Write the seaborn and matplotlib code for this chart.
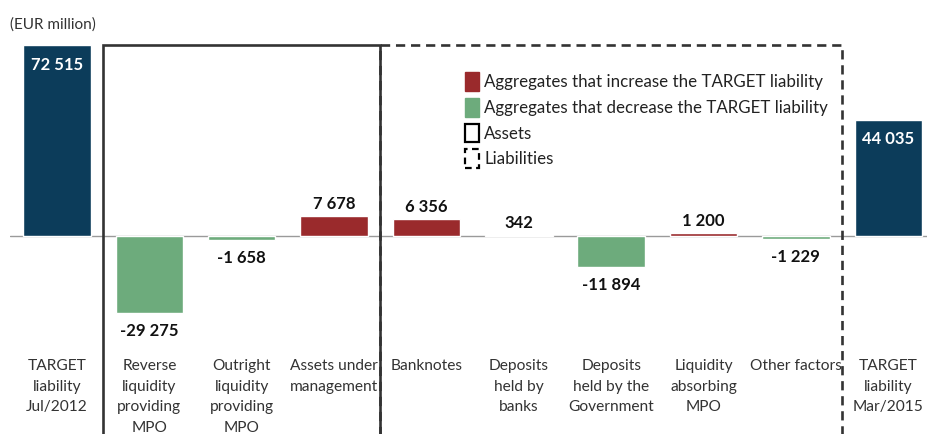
import matplotlib
matplotlib.use("Agg")
import matplotlib.pyplot as plt
import seaborn as sns
from matplotlib.patches import Patch, Rectangle
from matplotlib.transforms import blended_transform_factory

# Data
categories = ["TARGET\nliability\nJul/2012", "Reverse\nliquidity\nproviding\nMPO",
              "Outright\nliquidity\nproviding\nMPO", "Assets under\nmanagement", "Banknotes",
              "Deposits\nheld by\nbanks", "Deposits\nheld by the\nGovernment",
              "Liquidity\nabsorbing\nMPO", "Other factors", "TARGET\nliability\nMar/2015"]
values = [72515, -29275, -1658, 7678, 6356, 342, -11894, 1200, -1229, 44035]
kinds = ["total", "change", "change", "change", "change", "change", "change", "change", "change", "total"]
legend_labels = ["Aggregates that increase the TARGET liability",
                 "Aggregates that decrease the TARGET liability",
                 "Assets", "Liabilities"]

NAVY = "#0c3c5a"
RED = "#9a2a2c"
GREEN = "#6dab7c"


def bar_color(v, k):
    if k == "total":
        return NAVY
    return RED if v > 0 else GREEN


def fmt(v):
    return f"{v:,}".replace(",", " ")


sns.set_style("white")
plt.rcParams["font.family"] = ["Lato", "DejaVu Sans"]

fig = plt.figure(figsize=(9.28, 4.34), dpi=100)
ax = fig.add_axes([10 / 928, 0.205, 1 - 10 / 928, 0.896 - 0.205])

colors = [bar_color(v, k) for v, k in zip(values, kinds)]
sns.barplot(x=list(range(len(values))), y=values, hue=list(range(len(values))),
            palette=colors, legend=False, width=0.73, saturation=1, ax=ax)

ax.set_xlim(-0.509, 9.43)
ax.set_ylim(-41445, 72624)
ax.axhline(0, color="#9a9a9a", lw=1, zorder=0)
for s in ax.spines.values():
    s.set_visible(False)
ax.set_yticks([])
ax.set_xticks(range(len(categories)))
ax.set_xticklabels(categories, fontsize=11.2, color="#333333", linespacing=1.6)
ax.tick_params(axis="x", length=0, pad=10)
ax.set_xlabel("")
ax.set_ylabel("")

# value labels
for i, (v, k) in enumerate(zip(values, kinds)):
    if k == "total":
        ax.annotate(fmt(v), (i, v), xytext=(0, -8), textcoords="offset points",
                    ha="center", va="top", color="white", fontsize=12, fontweight="bold")
    elif v > 0:
        ax.annotate(fmt(v), (i, v), xytext=(0, 3), textcoords="offset points",
                    ha="center", va="bottom", color="#111111", fontsize=12, fontweight="bold")
    else:
        ax.annotate(fmt(v), (i, v), xytext=(0, -7), textcoords="offset points",
                    ha="center", va="top", color="#111111", fontsize=12, fontweight="bold")

# asset / liability boxes
trans = blended_transform_factory(ax.transData, ax.transAxes)
ax.add_patch(Rectangle((0.5, -1.0), 3.0, 2.0, transform=trans, fill=False,
                       edgecolor="#333333", lw=1.9, clip_on=False))
ax.add_patch(Rectangle((3.5, -1.0), 5.0, 2.0, transform=trans, fill=False,
                       edgecolor="#333333", lw=1.9, ls=(0, (3.5, 2.2)), clip_on=False))

handles = [Patch(facecolor=RED, edgecolor=RED),
           Patch(facecolor=GREEN, edgecolor=GREEN),
           Patch(facecolor="none", edgecolor="black", lw=1.6),
           Patch(facecolor="none", edgecolor="black", lw=1.6, ls=(0, (3, 2)))]
ax.legend(handles, legend_labels, loc="upper left", bbox_to_anchor=(457 / 928, 1 - 64 / 434),
          bbox_transform=fig.transFigure, frameon=False, fontsize=12.2,
          handlelength=0.8, handleheight=1.3, handletextpad=0.3, labelspacing=0.42,
          borderpad=0, labelcolor="#222222")

fig.text(10 / 928, 1 - 25 / 434, "(EUR million)", fontsize=11, color="#333333", va="center")

fig.savefig("out.png", dpi=100)
